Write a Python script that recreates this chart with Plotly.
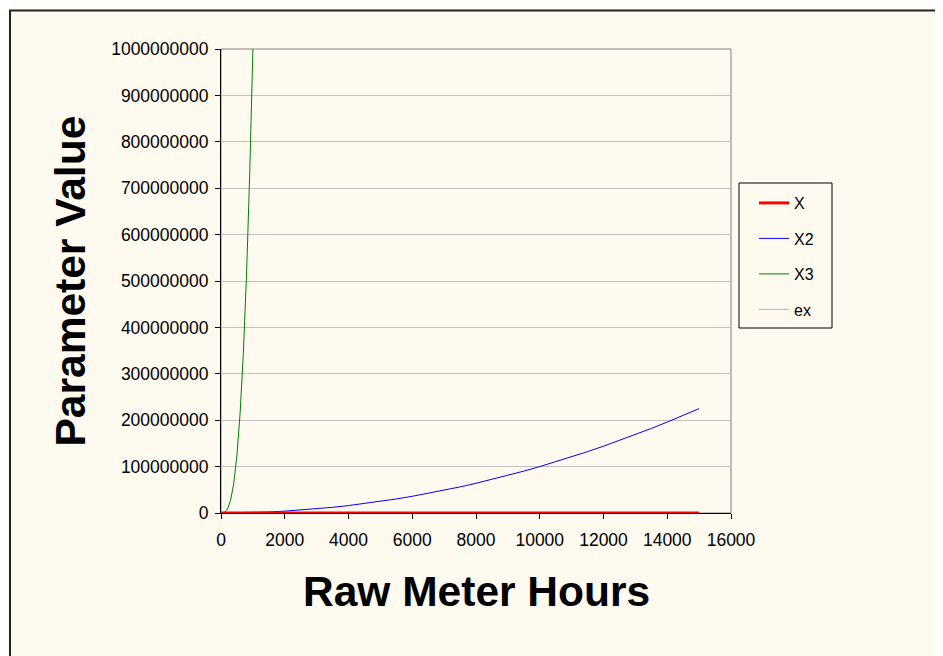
import plotly.graph_objects as go

# ---- data ----
hours = [0, 500, 1000, 1500, 2000, 2500, 3000, 3500, 4000, 4500, 5000, 5500, 6000, 6500,
         7000, 7500, 8000, 8500, 9000, 9500, 10000, 10500, 11000, 11500, 12000, 12500,
         13000, 13500, 14000, 14500, 15000]
x_values = [0, 500, 1000, 1500, 2000, 2500, 3000, 3500, 4000, 4500, 5000, 5500, 6000, 6500,
            7000, 7500, 8000, 8500, 9000, 9500, 10000, 10500, 11000, 11500, 12000, 12500,
            13000, 13500, 14000, 14500, 15000]
x2_values = [0, 250000, 1000000, 2250000, 4000000, 6250000, 9000000, 12250000, 16000000,
             20250000, 25000000, 30250000, 36000000, 42250000, 49000000, 56250000, 64000000,
             72250000, 81000000, 90250000, 100000000, 110250000, 121000000, 132250000,
             144000000, 156250000, 169000000, 182250000, 196000000, 210250000, 225000000]
hours_fine = [0, 100, 200, 300, 400, 500, 600, 700, 800, 900, 1000]
x3_values = [0, 1000000, 8000000, 27000000, 64000000, 125000000, 216000000, 343000000,
             512000000, 729000000, 1000000000]
ex_hours = [0, 500, 1000]
ex_values = [1, None, None]  # overflows the chart range

x_ticks = [0, 2000, 4000, 6000, 8000, 10000, 12000, 14000, 16000]
y_ticks = [0, 100000000, 200000000, 300000000, 400000000, 500000000, 600000000,
           700000000, 800000000, 900000000, 1000000000]

FONT = "Arial, 'Liberation Sans', sans-serif"
BG = "#FFFAF0"
W, H = 943, 656
OFF = 8  # page body margin
# plot area in page pixels
L, R, T, B = 221, 731, 49, 513

def px(xp):
    return (xp - L) / (R - L)

def py(yp):
    return (B - yp) / (B - T)

fig = go.Figure()
fig.add_trace(go.Scatter(x=hours, y=x2_values, name="X2", mode="lines",
                         line=dict(color="#0000FF", width=1), legendgroup="b", legendrank=2))
fig.add_trace(go.Scatter(x=hours_fine, y=x3_values, name="X3", mode="lines",
                         line=dict(color="#008000", width=1), legendgroup="c", legendrank=3))
fig.add_trace(go.Scatter(x=ex_hours, y=ex_values, name="ex", mode="lines",
                         line=dict(color="#CC99FF", width=1), legendgroup="d", legendrank=4))
fig.add_trace(go.Scatter(x=hours, y=x_values, name="X", mode="lines",
                         line=dict(color="#FF0000", width=3), legendgroup="a", legendrank=1))

fig.update_layout(
    width=W, height=H,
    margin=dict(l=L - OFF, r=W - (R - OFF), t=T - OFF, b=H - (B - OFF), pad=0),
    paper_bgcolor=BG, plot_bgcolor=BG,
    font=dict(family=FONT, size=16, color="black"),
    showlegend=True,
    legend=dict(x=px(754), y=py(186), xanchor="left", yanchor="top",
                bgcolor="rgba(0,0,0,0)", borderwidth=0,
                font=dict(family=FONT, size=16, color="black"),
                tracegroupgap=11.7, traceorder="grouped"),
    xaxis=dict(range=[0, 16000], tickvals=x_ticks, tickformat="d",
               showgrid=False, zeroline=False, showline=True, linecolor="black",
               linewidth=1, ticks="outside", ticklen=5, tickcolor="black",
               ticklabelstandoff=6,
               tickfont=dict(family=FONT, size=17.5, color="black")),
    yaxis=dict(range=[0, 1000000000], tickvals=y_ticks, tickformat="d",
               showgrid=True, gridcolor="#C0C0C0", gridwidth=1, zeroline=False,
               showline=True, linecolor="black", linewidth=1, ticks="outside",
               ticklen=5, tickcolor="black", ticklabelstandoff=3,
               tickfont=dict(family=FONT, size=17.5, color="black")),
    shapes=[
        dict(type="rect", xref="paper", yref="paper", x0=0, x1=1, y0=0, y1=1,
             line=dict(color="#808080", width=1), layer="below"),
        dict(type="rect", xref="paper", yref="paper", x0=px(739), x1=px(832),
             y0=py(328), y1=py(183), line=dict(color="black", width=1)),
        dict(type="rect", xref="paper", yref="paper", x0=px(10), x1=px(1000),
             y0=py(700), y1=py(10.5), line=dict(color="#222222", width=2)),
    ],
    annotations=[
        dict(text="<b>Raw Meter Hours</b>", xref="paper", yref="paper",
             x=0.5, y=py(591), xanchor="center", yanchor="middle", showarrow=False,
             font=dict(family=FONT, size=42.5, color="black")),
        dict(text="<b>Parameter Value</b>", xref="paper", yref="paper",
             x=px(69.5), y=0.5, xanchor="center", yanchor="middle", showarrow=False,
             textangle=-90, font=dict(family=FONT, size=42.5, color="black")),
    ],
)

fig.write_html("out.html")
